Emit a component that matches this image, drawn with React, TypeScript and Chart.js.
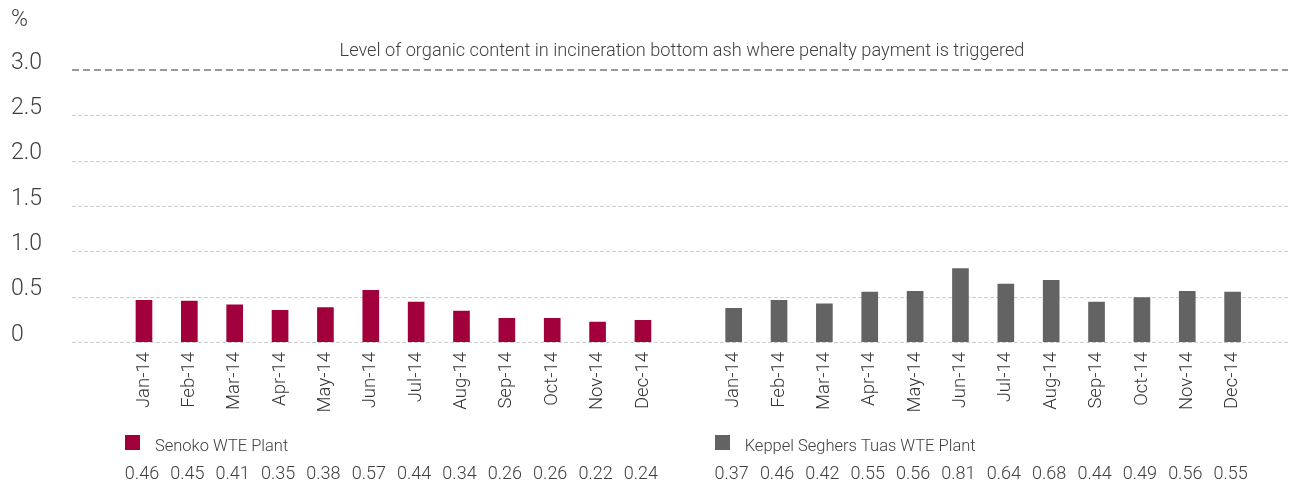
import React, { useEffect, useRef } from "react";
import { Chart, registerables } from "chart.js";

Chart.register(...registerables);

const months = ["Jan-14", "Feb-14", "Mar-14", "Apr-14", "May-14", "Jun-14", "Jul-14", "Aug-14", "Sep-14", "Oct-14", "Nov-14", "Dec-14"];
const categories = [...months, "", ...months];
const senokoValues = [0.46, 0.45, 0.41, 0.35, 0.38, 0.57, 0.44, 0.34, 0.26, 0.26, 0.22, 0.24];
const keppelValues = [0.37, 0.46, 0.42, 0.55, 0.56, 0.81, 0.64, 0.68, 0.44, 0.49, 0.56, 0.55];
const seriesNames = ["Senoko WTE Plant", "Keppel Seghers Tuas WTE Plant"];
const seriesColors = ["#a1003c", "#636363"];
const yTickValues = [0, 0.5, 1.0, 1.5, 2.0, 2.5, 3.0];
const thresholdValue = 3.0;
const titleText = "Level of organic content in incineration bottom ash where penalty payment is triggered";
const unitLabel = "%";

const FONT = "Roboto, 'Liberation Sans', sans-serif";
const TEXT = "#404040";

const overlayPlugin = {
  id: "overlay",
  beforeDatasetsDraw(chart: any) {
    const ctx = chart.ctx;
    const y = chart.scales.y;
    ctx.save();
    const x0 = 72;
    const x1 = 1288;
    yTickValues.forEach((v) => {
      const py = Math.round(y.getPixelForValue(v));
      const th = v === thresholdValue;
      ctx.beginPath();
      ctx.setLineDash(th ? [7, 4] : [4, 2]);
      ctx.strokeStyle = th ? "#9a9a9a" : "#cdcdcd";
      ctx.lineWidth = th ? 2 : 1;
      const yy = th ? py : py + 0.5;
      ctx.moveTo(x0, yy);
      ctx.lineTo(x1, yy);
      ctx.stroke();
    });
    ctx.setLineDash([]);
    ctx.fillStyle = TEXT;
    ctx.textBaseline = "alphabetic";
    ctx.font = `300 18.2px ${FONT}`;
    ctx.textAlign = "center";
    ctx.fillText(titleText, 682, 56);
    ctx.font = `300 23px ${FONT}`;
    ctx.textAlign = "left";
    ctx.fillText(unitLabel, 11, 26);
    ctx.restore();
  },
  afterDraw(chart: any) {
    const ctx = chart.ctx;
    const xs = chart.scales.x;
    const groups = [
      { name: seriesNames[0], color: seriesColors[0], start: 0, values: senokoValues },
      { name: seriesNames[1], color: seriesColors[1], start: 13, values: keppelValues },
    ];
    ctx.save();
    groups.forEach((g) => {
      const px0 = xs.getPixelForValue(g.start);
      ctx.fillStyle = g.color;
      ctx.fillRect(Math.round(px0 - 19), 435, 15, 15);
      ctx.fillStyle = TEXT;
      ctx.textBaseline = "alphabetic";
      ctx.font = `300 16.5px ${FONT}`;
      ctx.textAlign = "left";
      ctx.fillText(g.name, px0 + 11, 451);
      ctx.font = `300 18px ${FONT}`;
      ctx.textAlign = "center";
      g.values.forEach((v, i) => {
        ctx.fillText(v.toFixed(2), xs.getPixelForValue(g.start + i) - 2, 479);
      });
    });
    ctx.restore();
  },
};

export default function App() {
  const canvasRef = useRef<HTMLCanvasElement | null>(null);

  useEffect(() => {
    document.body.style.margin = "0";
    const canvas = canvasRef.current;
    if (!canvas) return;
    const pad = 13;
    const senokoData = [...senokoValues, ...Array(pad).fill(null)];
    const keppelData = [...Array(pad).fill(null), ...keppelValues];
    const chart = new Chart(canvas, {
      type: "bar",
      data: {
        labels: categories,
        datasets: [
          { label: seriesNames[0], data: senokoData, backgroundColor: seriesColors[0], barThickness: 16, grouped: false } as any,
          { label: seriesNames[1], data: keppelData, backgroundColor: seriesColors[1], barThickness: 16, grouped: false } as any,
        ],
      },
      options: {
        animation: false,
        responsive: false,
        devicePixelRatio: 1,
        layout: { padding: { top: 70, left: 11, right: 34.7, bottom: 0 } },
        plugins: { legend: { display: false }, tooltip: { enabled: false }, title: { display: false } },
        scales: {
          x: {
            grid: { display: false, drawTicks: false },
            border: { display: false },
            ticks: {
              autoSkip: false,
              maxRotation: 90,
              minRotation: 90,
              padding: 10,
              color: "#333333",
              font: { family: FONT, size: 18.5, weight: "300" as any },
            },
            afterFit: (s: any) => {
              s.height = 139;
            },
          },
          y: {
            min: 0,
            max: 3,
            grid: { display: false, drawTicks: false },
            border: { display: false },
            ticks: {
              stepSize: 0.5,
              crossAlign: "far",
              color: TEXT,
              font: { family: FONT, size: 23, weight: "300" as any, lineHeight: "14px" as any },
              callback: (v: any) => [Number(v) === 0 ? "0" : Number(v).toFixed(1), ""],
            },
            afterFit: (s: any) => {
              s.width = 110.3;
            },
          },
        },
      },
      plugins: [overlayPlugin],
    });
    return () => chart.destroy();
  }, []);

  return <canvas ref={canvasRef} width={1290} height={481} style={{ display: "block" }} />;
}
